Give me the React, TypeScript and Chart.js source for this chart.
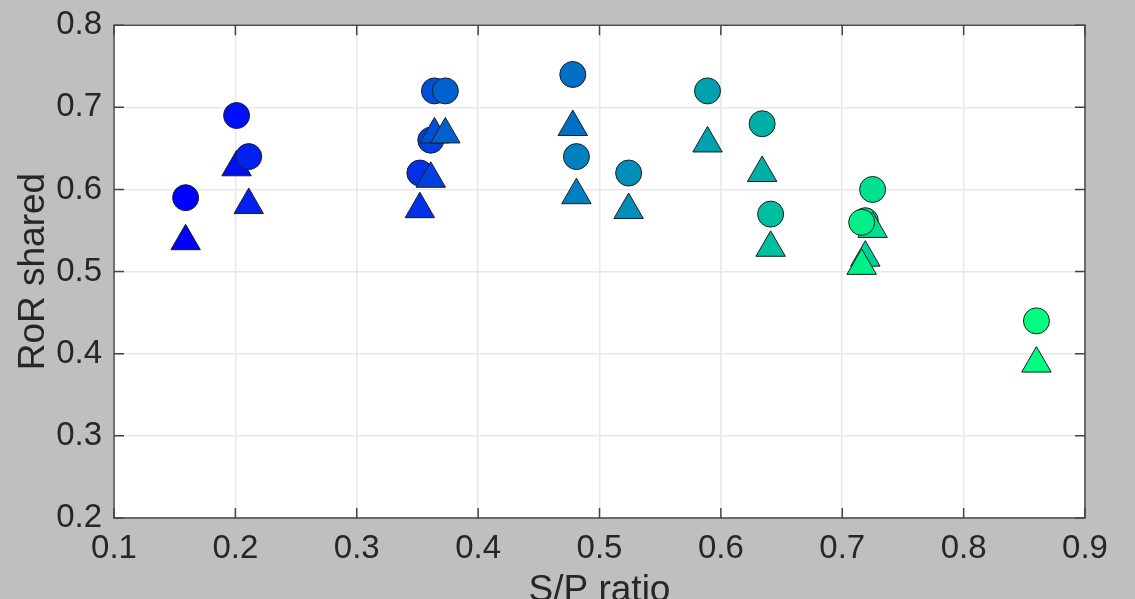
import React, { useEffect, useRef } from 'react';
import { Chart, registerables } from 'chart.js';

Chart.register(...registerables);

// S/P ratio for each subject (x)
const spRatio = [0.159, 0.201, 0.211, 0.352, 0.361, 0.364, 0.373, 0.478, 0.481, 0.524, 0.589, 0.634, 0.641, 0.719, 0.725, 0.716, 0.86];
// RoR shared, circle markers
const rorCircle = [0.59, 0.69, 0.64, 0.62, 0.66, 0.72, 0.72, 0.74, 0.64, 0.62, 0.72, 0.68, 0.57, 0.562, 0.60, 0.56, 0.44];
// RoR shared, triangle markers
const rorTriangle = [0.537, 0.627, 0.581, 0.576, 0.613, 0.667, 0.667, 0.676, 0.593, 0.575, 0.656, 0.62, 0.529, 0.517, 0.552, 0.507, 0.388];
// colormap level (winter) for each subject
const colorLevel = [0, 0.06, 0.13, 0.19, 0.25, 0.31, 0.38, 0.44, 0.5, 0.56, 0.63, 0.69, 0.75, 0.81, 0.88, 0.94, 1];

const xTicks = [0.1, 0.2, 0.3, 0.4, 0.5, 0.6, 0.7, 0.8, 0.9];
const yTicks = [0.2, 0.3, 0.4, 0.5, 0.6, 0.7, 0.8];

const xTitle = 'S/P ratio';
const yTitle = 'RoR shared';

const FONT = "'Liberation Sans', Arial, Helvetica, sans-serif";
const TEXT = '#262626';

function winter(t: number): string {
  return `rgb(0, ${Math.round(255 * t)}, ${Math.round(255 * (1 - 0.5 * t))})`;
}

const framePlugin = {
  id: 'matlabFrame',
  beforeDraw(chart: any) {
    const { ctx, width, height, chartArea } = chart;
    ctx.save();
    ctx.fillStyle = '#bfbfbf';
    ctx.fillRect(0, 0, width, height);
    ctx.fillStyle = '#ffffff';
    ctx.fillRect(chartArea.left, chartArea.top, chartArea.right - chartArea.left, chartArea.bottom - chartArea.top);
    ctx.restore();
  },
  beforeDatasetsDraw(chart: any) {
    const { ctx, chartArea, scales } = chart;
    const { left, right, top, bottom } = chartArea;
    const len = 10;
    ctx.save();
    ctx.strokeStyle = '#444444';
    ctx.lineWidth = 1.5;
    ctx.beginPath();
    xTicks.forEach((v) => {
      const px = scales.x.getPixelForValue(v);
      ctx.moveTo(px, bottom);
      ctx.lineTo(px, bottom - len);
      ctx.moveTo(px, top);
      ctx.lineTo(px, top + len);
    });
    yTicks.forEach((v) => {
      const py = scales.y.getPixelForValue(v);
      ctx.moveTo(left, py);
      ctx.lineTo(left + len, py);
      ctx.moveTo(right, py);
      ctx.lineTo(right - len, py);
    });
    ctx.stroke();
    ctx.strokeRect(left, top, right - left, bottom - top);
    ctx.restore();
  },
};

export default function App() {
  const ref = useRef<HTMLCanvasElement | null>(null);

  useEffect(() => {
    document.body.style.margin = '0';
    document.body.style.overflow = 'hidden';
    document.body.style.background = '#bfbfbf';
    if (!ref.current) return;

    const data: { x: number; y: number }[] = [];
    const styles: string[] = [];
    const radii: number[] = [];
    const colors: string[] = [];
    spRatio.forEach((x, i) => {
      const c = winter(colorLevel[i]);
      data.push({ x, y: rorCircle[i] });
      styles.push('circle');
      radii.push(13);
      colors.push(c);
      data.push({ x, y: rorTriangle[i] });
      styles.push('triangle');
      radii.push(17);
      colors.push(c);
    });

    const chart = new Chart(ref.current, {
      type: 'scatter',
      data: {
        datasets: [
          {
            data,
            pointStyle: styles as any,
            pointRadius: radii,
            pointHoverRadius: radii,
            backgroundColor: colors,
            borderColor: '#1e1e1e',
            borderWidth: 1,
            showLine: false,
          },
        ],
      },
      options: {
        animation: false,
        responsive: false,
        devicePixelRatio: 1,
        layout: { padding: { top: 24, right: 50, left: 0, bottom: 0 } },
        plugins: { legend: { display: false }, tooltip: { enabled: false } },
        scales: {
          x: {
            type: 'linear',
            min: 0.1,
            max: 0.9,
            afterBuildTicks: (s: any) => {
              s.ticks = xTicks.map((v) => ({ value: v }));
            },
            afterFit: (s: any) => {
              s.height = 81;
            },
            grid: { color: '#e8e8e8', lineWidth: 1.5, drawTicks: false },
            border: { display: false },
            ticks: {
              color: TEXT,
              font: { family: FONT, size: 33, lineHeight: 1.2 },
              padding: 11,
              maxRotation: 0,
              autoSkip: false,
              callback: (v: any) => Number(v).toFixed(1),
            },
            title: {
              display: true,
              text: xTitle,
              color: TEXT,
              font: { family: FONT, size: 37, lineHeight: 0.43 },
              padding: { top: 0, bottom: 0 },
            },
          },
          y: {
            type: 'linear',
            min: 0.2,
            max: 0.8,
            afterBuildTicks: (s: any) => {
              s.ticks = yTicks.map((v) => ({ value: v }));
            },
            afterFit: (s: any) => {
              s.width = 114;
            },
            grid: { color: '#e8e8e8', lineWidth: 1.5, drawTicks: false },
            border: { display: false },
            ticks: {
              color: TEXT,
              font: { family: FONT, size: 33, lineHeight: 0.8 },
              padding: 12,
              autoSkip: false,
              callback: (v: any) => Number(v).toFixed(1),
            },
            title: {
              display: true,
              text: yTitle,
              color: TEXT,
              font: { family: FONT, size: 37, lineHeight: 1.2 },
              padding: { top: 12, bottom: 0 },
            },
          },
        },
      },
      plugins: [framePlugin],
    });

    return () => chart.destroy();
  }, []);

  return (
    <div style={{ width: 1135, height: 599, background: '#bfbfbf' }}>
      <canvas ref={ref} width={1135} height={599} style={{ display: 'block' }} />
    </div>
  );
}
